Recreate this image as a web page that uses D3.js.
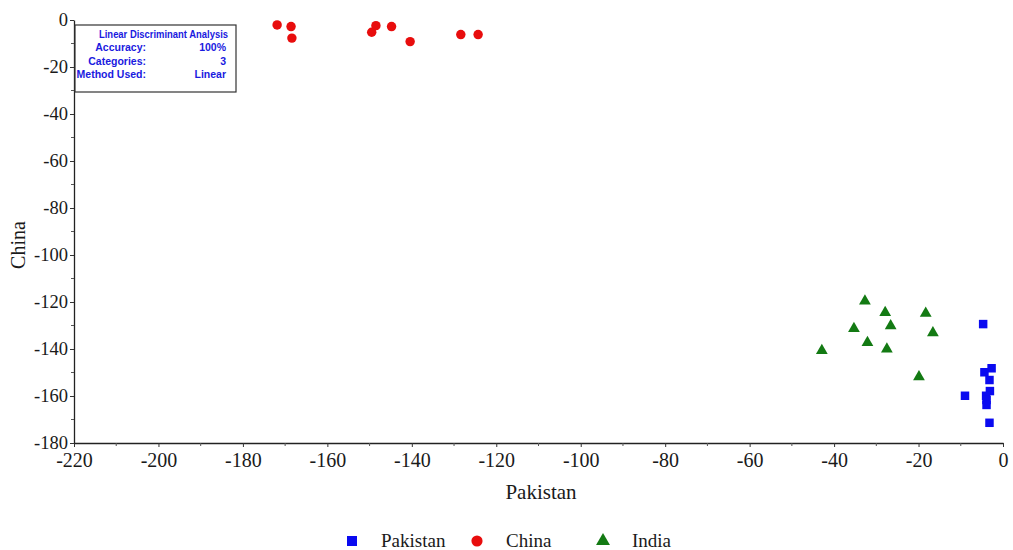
<!DOCTYPE html>
<html>
<head>
<meta charset="utf-8">
<script src="https://cdn.jsdelivr.net/npm/d3@7"></script>
<style>
  html, body { margin: 0; padding: 0; background: #fff; }
  svg { display: block; }
  .serif { font-family: "Liberation Serif", "Times New Roman", "DejaVu Serif", serif; }
  .narrow { font-family: "Liberation Sans Narrow", "Arial Narrow", "Liberation Sans", Arial, sans-serif; font-weight: bold; }
</style>
</head>
<body>
<svg id="chart" width="1013" height="550"></svg>
<script>
// Discriminant scores per group: [x (Pakistan function), y (China function)]
const pakistanX = [-4.7, -2.7, -4.4, -3.2, -3.1, -9.0, -4.0, -3.9, -3.9, -3.2];
const pakistanY = [-129.4, -148.2, -149.9, -153.2, -157.9, -159.9, -159.9, -161.7, -163.8, -171.4];
const chinaX = [-171.9, -168.6, -168.4, -149.5, -148.5, -144.8, -140.4, -128.4, -124.3];
const chinaY = [-2.1, -2.8, -7.7, -5.2, -2.4, -2.8, -9.2, -6.2, -6.2];
const indiaX = [-32.7, -27.9, -18.3, -35.3, -26.6, -16.6, -32.1, -27.5, -42.9, -19.9];
const indiaY = [-119.6, -124.5, -124.8, -131.3, -130.1, -133.1, -137.3, -140.0, -140.7, -151.8];

const groups = ["Pakistan", "China", "India"];
const xTicks = [-220, -200, -180, -160, -140, -120, -100, -80, -60, -40, -20, 0];
const yTicks = [0, -20, -40, -60, -80, -100, -120, -140, -160, -180];
const infoLabels = ["Accuracy:", "Categories:", "Method Used:"];
const infoValues = ["100%", "3", "Linear"];

const series = [
  { name: groups[0], xs: pakistanX, ys: pakistanY, color: "#0a0af0", shape: d3.symbolSquare, size: 72 },
  { name: groups[1], xs: chinaX, ys: chinaY, color: "#e80d0d", shape: d3.symbolCircle, size: 70 },
  { name: groups[2], xs: indiaX, ys: indiaY, color: "#137a13", shape: d3.symbolTriangle, size: 60 }
];

const svg = d3.select("#chart");

const x = d3.scaleLinear().domain([-220, 0]).range([74, 1003]);
const y = d3.scaleLinear().domain([-180, 0]).range([443, 20]);
const plain = d => String(d);

// Axes
const xAxis = svg.append("g").attr("transform", "translate(0,443)")
  .call(d3.axisBottom(x).tickValues(xTicks).tickSize(4).tickSizeOuter(0).tickFormat(plain));
const yAxis = svg.append("g").attr("transform", "translate(74,0)")
  .call(d3.axisLeft(y).tickValues(yTicks).tickSize(4).tickSizeOuter(0).tickFormat(plain));

[xAxis, yAxis].forEach(g => {
  g.attr("font-family", null).attr("font-size", null);
  g.select(".domain").attr("stroke", "#222").attr("stroke-width", 1.3);
  g.selectAll(".tick line").attr("stroke", "#333");
  g.selectAll(".tick text").attr("class", "serif").attr("fill", "#1a1a1a");
});
xAxis.selectAll(".tick text").style("font-size", "20px").attr("dy", "0").attr("y", 24);
yAxis.selectAll(".tick text").style("font-size", "18.5px").attr("x", -6).attr("dy", "0.3em");

// Minor ticks
const xMinor = d3.range(-210, 0, 20);
svg.append("g").selectAll("line").data(xMinor).join("line")
  .attr("x1", d => x(d)).attr("x2", d => x(d))
  .attr("y1", 443).attr("y2", 446).attr("stroke", "#555");
const yMinor = d3.range(-170, 0, 20);
svg.append("g").selectAll("line").data(yMinor).join("line")
  .attr("x1", 71).attr("x2", 74)
  .attr("y1", d => y(d)).attr("y2", d => y(d)).attr("stroke", "#555");

// Axis titles
svg.append("text").attr("class", "serif").attr("x", 541).attr("y", 499).attr("text-anchor", "middle")
  .style("font-size", "21px").attr("fill", "#1a1a1a").text("Pakistan");
svg.append("text").attr("class", "serif").attr("transform", "translate(25,245) rotate(-90)")
  .attr("text-anchor", "middle").style("font-size", "20px").attr("fill", "#1a1a1a").text("China");

// Points
series.forEach(s => {
  const pts = s.xs.map((v, i) => [v, s.ys[i]]);
  svg.append("g").selectAll("path").data(pts).join("path")
    .attr("d", d3.symbol().type(s.shape).size(s.size))
    .attr("transform", d => `translate(${x(d[0])},${y(d[1])})`)
    .attr("fill", s.color);
});

// Info box
const info = svg.append("g");
info.append("rect").attr("x", 75).attr("y", 25).attr("width", 161).attr("height", 67)
  .attr("fill", "#fff").attr("stroke", "#333").attr("stroke-width", 1.2);
info.append("text").attr("class", "narrow").attr("x", 228).attr("y", 38).attr("text-anchor", "end")
  .style("font-size", "10.5px").attr("fill", "#1a1ae0")
  .attr("textLength", 129).attr("lengthAdjust", "spacingAndGlyphs")
  .text("Linear Discriminant Analysis");
infoLabels.forEach((lab, i) => {
  info.append("text").attr("class", "narrow").attr("x", 146).attr("y", 51 + i * 13.5)
    .attr("text-anchor", "end").style("font-size", "10.5px").attr("fill", "#1a1ae0").text(lab);
  info.append("text").attr("class", "narrow").attr("x", 226).attr("y", 51 + i * 13.5)
    .attr("text-anchor", "end").style("font-size", "10.5px").attr("fill", "#1a1ae0").text(infoValues[i]);
});

// Legend
const legendX = [352, 477, 603];
const legend = svg.append("g");
series.forEach((s, i) => {
  legend.append("path")
    .attr("d", d3.symbol().type(s.shape).size(s.size * 1.4))
    .attr("transform", `translate(${legendX[i]},${541})`)
    .attr("fill", s.color);
  legend.append("text").attr("class", "serif").attr("x", legendX[i] + 29).attr("y", 547)
    .style("font-size", "19px").attr("fill", "#1a1a1a").text(s.name);
});
</script>
</body>
</html>
